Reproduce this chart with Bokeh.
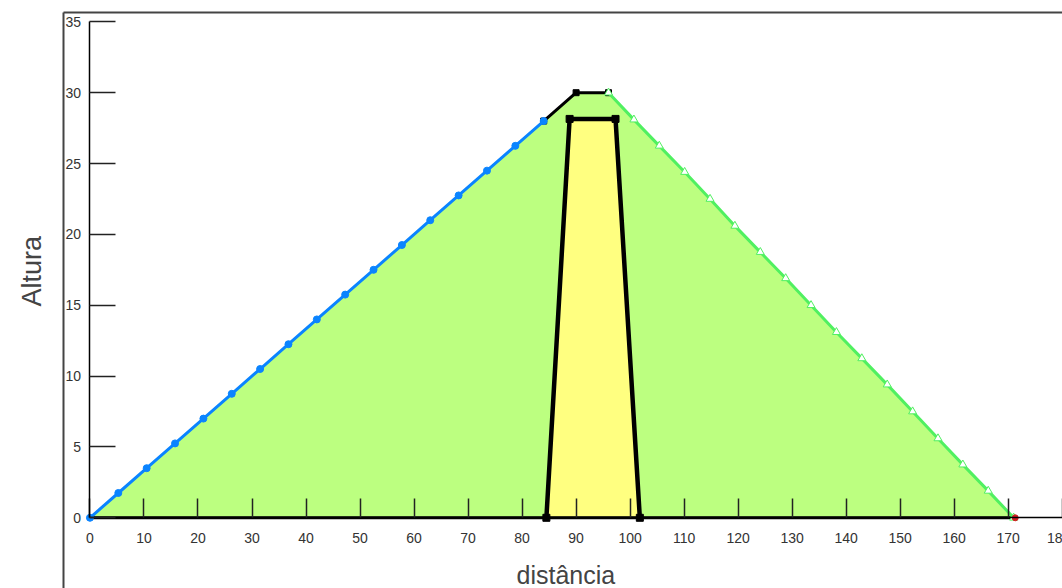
from bokeh.plotting import figure
from bokeh.models import FixedTicker, Range1d, Title, Label, LinearAxis
from bokeh.embed import file_html
from bokeh.resources import INLINE

x_ticks = list(range(0, 190, 10))
y_ticks = list(range(0, 40, 5))

shell_x = [0, 84, 90, 96, 171]
shell_y = [0, 28, 30, 30, 0]
core_x = [84.5, 88.8, 97.3, 101.8]
core_y = [0, 28.15, 28.15, 0]

blue_x = [0, 5.25, 10.5, 15.75, 21, 26.25, 31.5, 36.75, 42, 47.25, 52.5, 57.75, 63, 68.25, 73.5, 78.75, 84]
blue_y = [0, 1.75, 3.5, 5.25, 7, 8.75, 10.5, 12.25, 14, 15.75, 17.5, 19.25, 21, 22.75, 24.5, 26.25, 28]
crest_x = [84, 90, 96]
crest_y = [28, 30, 30]
green_x = [96, 100.7, 105.4, 110.1, 114.8, 119.4, 124.1, 128.8, 133.5, 138.2, 142.9, 147.6, 152.3, 157, 161.6, 166.3, 171]
green_y = [30, 28.1, 26.25, 24.4, 22.5, 20.6, 18.75, 16.9, 15, 13.1, 11.25, 9.4, 7.5, 5.6, 3.75, 1.9, 0]
base_x = [0, 171]
base_y = [0, 0]
end_x = [171.3]
end_y = [0]

FONT = "Liberation Sans"
p = figure(width=1062, height=588, output_backend="svg", toolbar_location=None,
           x_range=Range1d(-4.9, 180.05), y_range=Range1d(-4.99, 35.66),
           min_border_left=63, min_border_right=0, min_border_top=12, min_border_bottom=0,
           background_fill_color="white", border_fill_color="white",
           outline_line_color=None)
p.grid.visible = False

p.patch(shell_x, shell_y, fill_color="#BCFF80", line_color=None)
p.patch(core_x, core_y, fill_color="#FFFF80", line_color=None)

p.line(core_x, core_y, line_color="black", line_width=4.5)
p.scatter(core_x, core_y, marker="square", size=7, fill_color="black", line_color="black")
p.line(base_x, base_y, line_color="black", line_width=3)
p.line(crest_x, crest_y, line_color="black", line_width=3)
p.scatter(crest_x, crest_y, marker="square", size=6, fill_color="black", line_color="black")
p.line(blue_x, blue_y, line_color="#0A84FF", line_width=3)
p.scatter(blue_x, blue_y, marker="circle", size=7, fill_color="#0A84FF", line_color="#0A84FF")
p.line(green_x, green_y, line_color="#50F060", line_width=3)
p.scatter(green_x, green_y, marker="triangle", size=8, fill_color="white", line_color="#50F060")
p.scatter(end_x, end_y, marker="circle", size=6, fill_color="#D02020", line_color="#D02020")

for ax, ticks, tick_in, standoff, bounds in ((p.xaxis[0], x_ticks, 19, 15, (0, 180.05)),
                                             (p.yaxis[0], y_ticks, 26, 9, (0, 35))):
    ax.ticker = FixedTicker(ticks=ticks)
    ax.fixed_location = 0
    ax.bounds = bounds
    ax.major_tick_in = tick_in
    ax.major_tick_out = 0
    ax.minor_tick_line_color = None
    ax.major_tick_line_color = "#222222"
    ax.major_tick_line_width = 1.5
    ax.axis_line_color = "black"
    ax.axis_line_width = 1.5
    ax.major_label_standoff = standoff
    ax.major_label_text_font = FONT
    ax.major_label_text_font_size = "14px"
    ax.major_label_text_color = "#333333"

p.xaxis[0].major_label_overrides = {180: "18"}


def border_axis():
    return LinearAxis(ticker=FixedTicker(ticks=[]), major_tick_line_color=None, minor_tick_line_color=None,
                      major_label_text_font_size="0px", major_label_standoff=0,
                      major_tick_in=0, major_tick_out=0, minor_tick_in=0, minor_tick_out=0,
                      axis_line_color="#444444", axis_line_width=2)


p.add_layout(border_axis(), "above")
p.add_layout(border_axis(), "left")

p.add_layout(Title(text="Altura", align="left", offset=282, standoff=30, vertical_align="top",
                   text_font=FONT, text_font_size="27px", text_font_style="normal",
                   text_color="#444444"), "left")
p.add_layout(Label(x=88.1, y=-4.05, text="distância", text_align="center", text_baseline="middle",
                   text_font=FONT, text_font_size="25px", text_color="#444444"))

open("out.html", "w").write(file_html(p, INLINE))
